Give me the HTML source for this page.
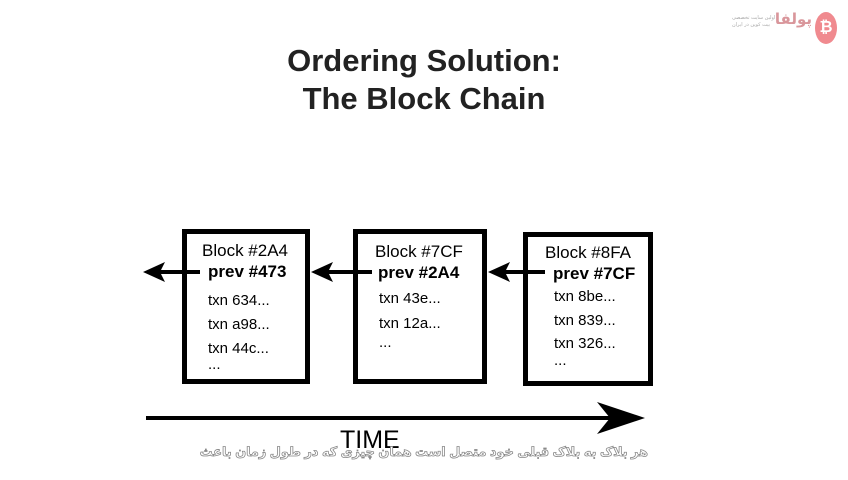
<!DOCTYPE html>
<html><head><meta charset="utf-8"><style>
body{margin:0;width:848px;height:480px;background:#fff;overflow:hidden;position:relative;font-family:"Liberation Sans",sans-serif}
.t{position:absolute;white-space:nowrap}
.box{position:absolute;border:5px solid #000;box-sizing:border-box;background:#fff}
</style></head><body>
<div class="t" style="left:0;width:848px;text-align:center;top:42px;font-size:31px;line-height:38px;font-weight:bold;color:#222">Ordering Solution:<br>The Block Chain</div>

<div class="box" style="left:182px;top:229px;width:128px;height:155px"></div>
<div class="box" style="left:353px;top:229px;width:134px;height:155px"></div>
<div class="box" style="left:523px;top:232px;width:130px;height:154px"></div>

<svg width="848" height="480" style="position:absolute;left:0;top:0">
<g stroke="#000" stroke-width="4">
<line x1="160" y1="272" x2="200" y2="272"/>
<line x1="328" y1="272" x2="372" y2="272"/>
<line x1="505" y1="272" x2="545" y2="272"/>
<line x1="146" y1="418" x2="610" y2="418"/>
</g>
<polygon points="143,272 165,262 160,272 165,282"/>
<polygon points="311,272 333,262 328,272 333,282"/>
<polygon points="488,272 510,262 505,272 510,282"/>
<polygon points="645,418 597,402 610,418 597,434"/>
</svg>

<div class="t" style="left:202px;top:241px;font-size:17px">Block #2A4</div>
<div class="t" style="left:208px;top:262px;font-size:17px;font-weight:bold">prev #473</div>
<div class="t" style="left:208px;top:292px;font-size:15px">txn 634...</div>
<div class="t" style="left:208px;top:316px;font-size:15px">txn a98...</div>
<div class="t" style="left:208px;top:340px;font-size:15px">txn 44c...</div>
<div class="t" style="left:208px;top:356px;font-size:15px">...</div>

<div class="t" style="left:375px;top:242px;font-size:17px">Block #7CF</div>
<div class="t" style="left:378px;top:263px;font-size:17px;font-weight:bold">prev #2A4</div>
<div class="t" style="left:379px;top:290px;font-size:15px">txn 43e...</div>
<div class="t" style="left:379px;top:315px;font-size:15px">txn 12a...</div>
<div class="t" style="left:379px;top:334px;font-size:15px">...</div>

<div class="t" style="left:545px;top:243px;font-size:17px">Block #8FA</div>
<div class="t" style="left:553px;top:264px;font-size:17px;font-weight:bold">prev #7CF</div>
<div class="t" style="left:554px;top:288px;font-size:15px">txn 8be...</div>
<div class="t" style="left:554px;top:312px;font-size:15px">txn 839...</div>
<div class="t" style="left:554px;top:335px;font-size:15px">txn 326...</div>
<div class="t" style="left:554px;top:352px;font-size:15px">...</div>

<div class="t" style="left:340px;top:426px;font-size:25px">TIME</div>
<div class="t" style="left:150px;top:444px;width:498px;text-align:right;font-size:12.8px;font-family:'Liberation Sans','DejaVu Sans',sans-serif;color:#fff;-webkit-text-stroke:0.8px #888;direction:rtl;font-weight:bold">هر بلاک به بلاک قبلی خود متصل است همان چیزی که در طول زمان باعث</div>

<div style="position:absolute;left:815px;top:12px;width:22px;height:32px;border-radius:50%;background:#f08a8f;color:#fff;font-size:16px;text-align:center;line-height:32px;font-weight:bold">₿</div>
<div class="t" style="left:780px;top:10px;width:32px;text-align:right;font-size:15px;font-weight:bold;color:#d9969b;font-family:'DejaVu Sans',sans-serif;direction:rtl">پولفا</div>
<div class="t" style="left:732px;top:15px;font-size:5px;line-height:7px;color:#aaa;font-family:'DejaVu Sans',sans-serif">اولین سایت تخصصی<br>بیت کوین در ایران</div>
</body></html>
